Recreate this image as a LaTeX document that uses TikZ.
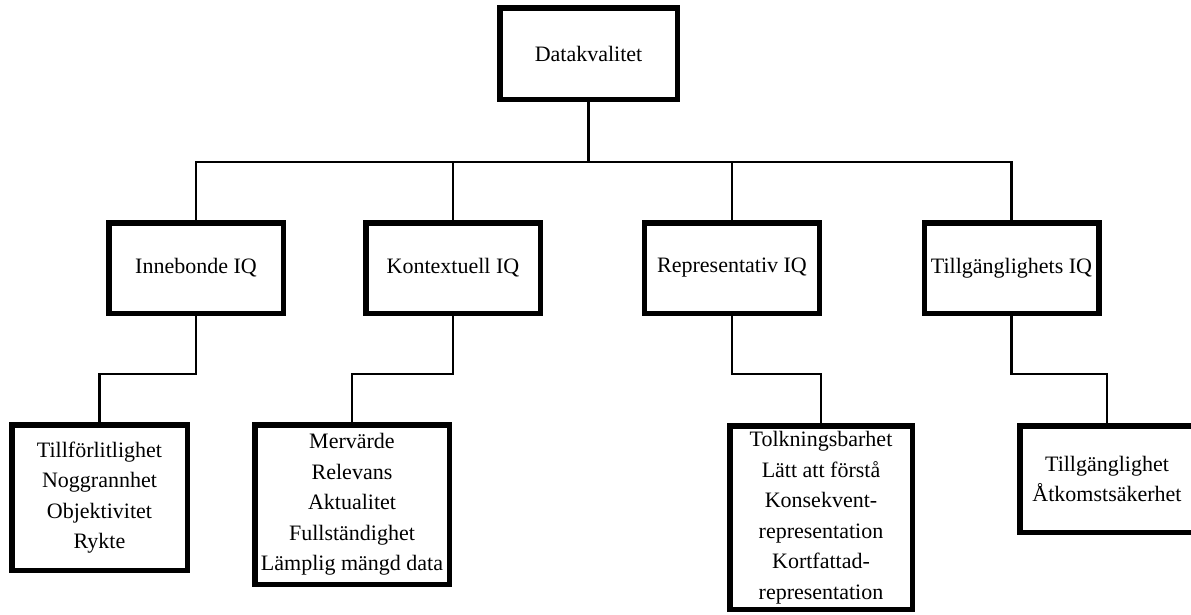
\documentclass[tikz,border=0pt]{standalone}
\usepackage{fontspec}
\setmainfont{Liberation Serif}
\begin{document}
\begin{tikzpicture}[x=1pt,y=-1pt,
  qbox/.style={draw=black, line width=5.5pt, fill=white, inner sep=0pt, align=center,
    font=\fontsize{22}{30.5}\selectfont},
  conn/.style={draw=black, line width=2.2pt, line join=miter}]
\useasboundingbox[fill=white] (0,0) rectangle (1191,614);
% level 1
\node[qbox, minimum width=177.5pt, minimum height=91.5pt] (D) at (588.5,53.5) {Datakvalitet};
% level 2
\node[qbox, minimum width=174.5pt, minimum height=90.5pt] (A) at (196,268) {Innebonde IQ};
\node[qbox, minimum width=174.5pt, minimum height=90.5pt] (K) at (453,268) {Kontextuell IQ};
\node[qbox, minimum width=175pt, minimum height=90.5pt] (R) at (732,268) {Representativ IQ};
\node[qbox, minimum width=174.5pt, minimum height=90.5pt] (T) at (1011.5,268) {Tillgänglighets IQ};
% level 3
\node[qbox, minimum width=175.5pt, minimum height=145.5pt] (B1) at (99.5,497.5)
  {Tillförlitlighet\\Noggrannhet\\Objektivitet\\Rykte};
\node[qbox, minimum width=194.5pt, minimum height=159.5pt] (B2) at (352,504.5)
  {Mervärde\\Relevans\\Aktualitet\\Fullständighet\\Lämplig mängd data};
\node[qbox, minimum width=182.5pt, minimum height=183.5pt] (B3) at (821,517.5)
  {Tolkningsbarhet\\Lätt att förstå\\Konsekvent-\\representation\\Kortfattad-\\representation};
\node[qbox, minimum width=174.5pt, minimum height=106.5pt] (B4) at (1107,479)
  {Tillgänglighet\\Åtkomstsäkerhet};
% helper levels
\coordinate (hub) at (588.5,162);
\coordinate (lev) at (0,374);
% connectors top
\draw[conn] (D.south) -- (hub);
\draw[conn] (A.north) |- (hub) -| (T.north);
\draw[conn] (K.north) -- (K.north |- hub);
\draw[conn] (R.north) -- (R.north |- hub);
% connectors bottom
\draw[conn] (A.south) |- (B1.north |- lev) -- (B1.north);
\draw[conn] (K.south) |- (B2.north |- lev) -- (B2.north);
\draw[conn] (R.south) |- (B3.north |- lev) -- (B3.north);
\draw[conn] (T.south) |- (B4.north |- lev) -- (B4.north);
% redraw boxes above connectors
\end{tikzpicture}
\end{document}
